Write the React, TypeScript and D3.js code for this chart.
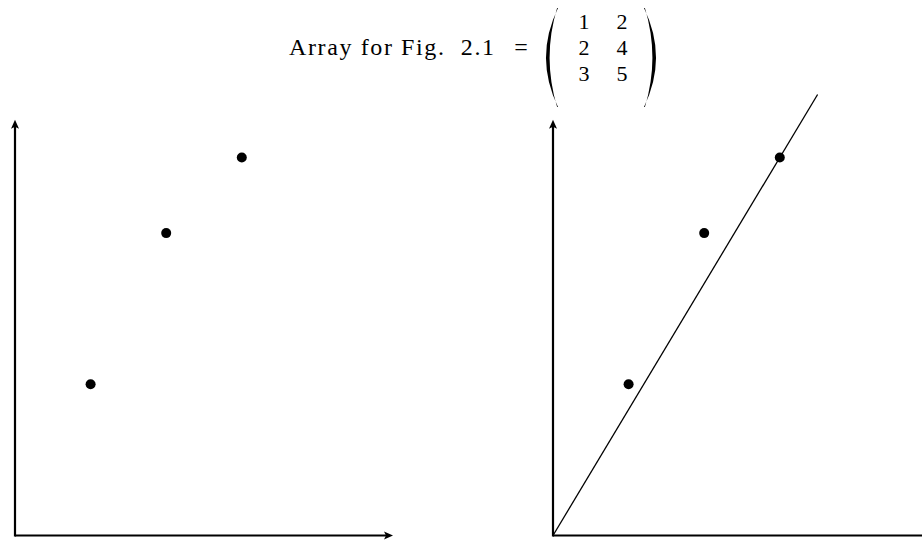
import React from "react";
import * as d3 from "d3";

const xValues = [1, 2, 3];
const yValues = [2, 4, 5];
const matrixRows = [
  ["1", "2"],
  ["2", "4"],
  ["3", "5"],
];
const titleText = "Array for Fig.  2.1";
const fitX = [0, 3.5];
const fitY = [0, 35 / 6];
const xAxisMax = 5;
const yAxisMax = 5.5;

const W = 922;
const H = 542;
const unit = 75.6;
const originY = 535.5;
const panels = [
  { ox: 15, fit: false },
  { ox: 553, fit: true },
];

const FONT = "'Liberation Serif', 'Times New Roman', serif";

function Paren({ x, top, bottom, dir }: { x: number; top: number; bottom: number; dir: number }) {
  // x = outermost point of the bulge; dir = 1 for "(", -1 for ")"
  const mid = (top + bottom) / 2;
  const xt = x + 12 * dir;
  const xtIn = xt - 0.9 * dir;
  const xInner = x + 3.6 * dir;
  const cOuter = 2 * x - xt;
  const cInner = 2 * xInner - xtIn;
  const d = `M ${xt} ${top} Q ${cOuter} ${mid} ${xt} ${bottom} L ${xtIn} ${bottom} Q ${cInner} ${mid} ${xtIn} ${top} Z`;
  return <path d={d} fill="#000" />;
}

function Panel({ ox, fit }: { ox: number; fit: boolean }) {
  const xs = d3.scaleLinear().domain([0, 1]).range([ox, ox + unit]);
  const ys = d3.scaleLinear().domain([0, 1]).range([originY, originY - unit]);
  const line = d3
    .line<number>()
    .x((d) => xs(fitX[d]))
    .y((d) => ys(fitY[d]));
  const xEnd = xs(xAxisMax);
  const yEnd = ys(yAxisMax);
  const ax = 4;
  const al = 9;
  return (
    <g>
      <line x1={xs(0)} y1={ys(0)} x2={xEnd - 4} y2={ys(0)} stroke="#000" strokeWidth={2.2} />
      <path d={`M ${xEnd} ${ys(0)} L ${xEnd - al} ${ys(0) - ax} L ${xEnd - al + 2} ${ys(0)} L ${xEnd - al} ${ys(0) + ax} Z`} fill="#000" />
      <line x1={xs(0)} y1={ys(0) + 1.1} x2={xs(0)} y2={yEnd + 4} stroke="#000" strokeWidth={2.2} />
      <path d={`M ${xs(0)} ${yEnd} L ${xs(0) - ax} ${yEnd + al} L ${xs(0)} ${yEnd + al - 2} L ${xs(0) + ax} ${yEnd + al} Z`} fill="#000" />
      {fit && <path d={line([0, 1]) || ""} fill="none" stroke="#000" strokeWidth={1.3} />}
      {xValues.map((x, i) => (
        <circle key={i} cx={xs(x)} cy={ys(yValues[i])} r={5} fill="#000" />
      ))}
    </g>
  );
}

export default function App() {
  const rowBaseline = [29, 55, 81];
  const colX = [584, 622];
  return (
    <svg
      width={W}
      height={H}
      style={{ position: "absolute", left: 0, top: 0, background: "#fff" }}
      fontFamily={FONT}
    >
      <rect width={W} height={H} fill="#fff" />
      <text x={289} y={55} fontSize={24} fill="#000" textLength={205} lengthAdjust="spacing" style={{ whiteSpace: "pre" }}>
        {titleText}
      </text>
      <text x={521} y={55} fontSize={24} fill="#000" textAnchor="middle">
        =
      </text>
      <Paren x={546} top={8} bottom={107} dir={1} />
      <Paren x={656} top={8} bottom={107} dir={-1} />
      {matrixRows.map((row, r) =>
        row.map((v, c) => (
          <text key={`${r}-${c}`} x={colX[c]} y={rowBaseline[r]} fontSize={22} textAnchor="middle" fill="#000">
            {v}
          </text>
        ))
      )}
      {panels.map((p, i) => (
        <Panel key={i} ox={p.ox} fit={p.fit} />
      ))}
    </svg>
  );
}
